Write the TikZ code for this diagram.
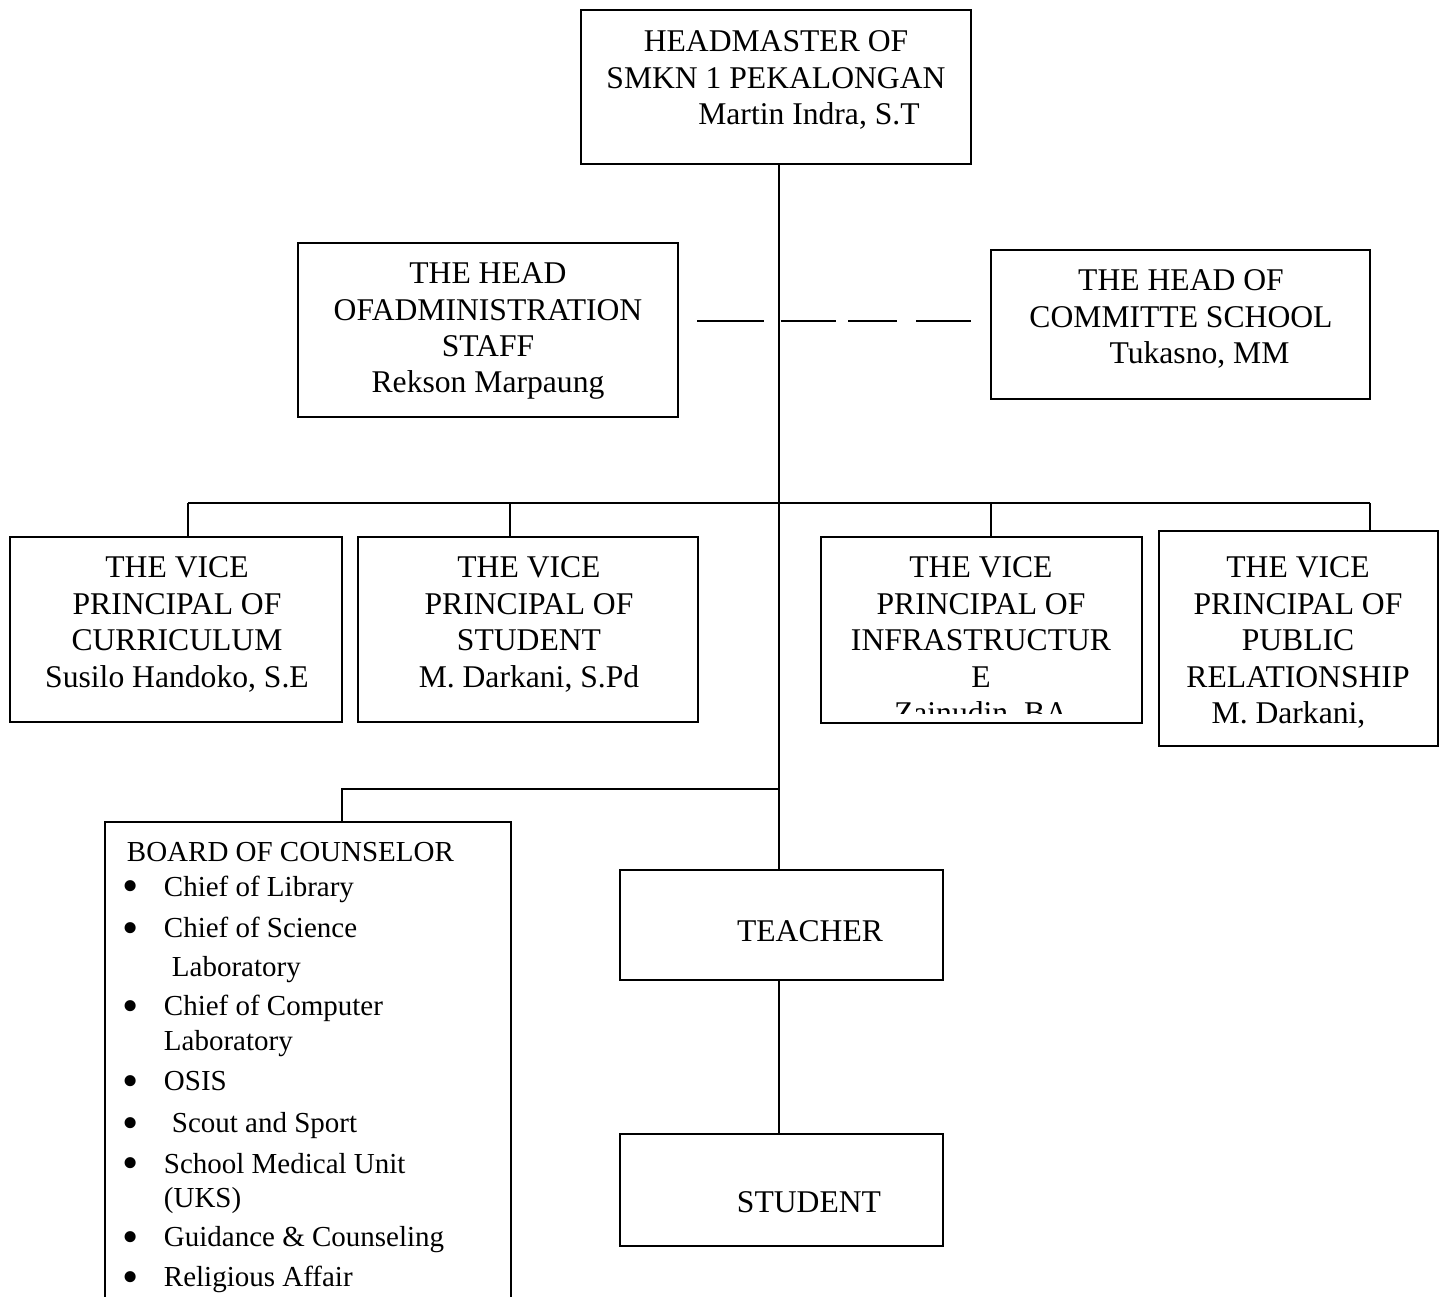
\documentclass[tikz,border=0pt]{standalone}
\usepackage{fontspec}
\setmainfont{Liberation Serif}
\newcommand{\itm}{\hspace*{-0.08cm}\makebox[0.82cm][l]{\raisebox{-0.2em}{\scalebox{1.6}{\textbullet}}}}
\begin{document}
\begin{tikzpicture}[x=0.02cm, y=-0.02cm, line width=1.1pt,
  box/.style={draw, rectangle, anchor=north west, inner sep=0pt, outer sep=0pt},
  txt/.style={align=center, anchor=north, inner sep=0pt, font=\fontsize{18}{20.7}\selectfont},
  list/.style={align=left, anchor=north west, inner sep=0pt, font=\fontsize{16.5}{19.3}\selectfont}]
\path[use as bounding box, clip] (0,0) rectangle (1445,1297);
\node (head)[box, minimum width=7.8cm, minimum height=3.08cm] at (581,10) {};
\node (adm)[box, minimum width=7.6cm, minimum height=3.48cm] at (298,243) {};
\node (com)[box, minimum width=7.58cm, minimum height=2.98cm] at (991,250) {};
\node (vp1)[box, minimum width=6.64cm, minimum height=3.7cm] at (10,537) {};
\node (vp2)[box, minimum width=6.8cm, minimum height=3.7cm] at (358,537) {};
\node (vp3)[box, minimum width=6.42cm, minimum height=3.72cm] at (821,537) {};
\node (vp4)[box, minimum width=5.58cm, minimum height=4.3cm] at (1159,531) {};
\node (board)[box, minimum width=8.12cm, minimum height=10cm] at (105,822) {};
\node (teach)[box, minimum width=6.46cm, minimum height=2.2cm] at (620,870) {};
\node (stud)[box, minimum width=6.46cm, minimum height=2.24cm] at (620,1134) {};
\node (headt)[txt] at (776,30) {HEADMASTER OF\\SMKN 1 PEKALONGAN\\\hspace*{1.32cm}Martin Indra, S.T};
\node (admt)[txt] at (488,262) {THE HEAD\\OFADMINISTRATION\\STAFF\\Rekson Marpaung};
\node (comt)[txt] at (1181,269) {THE HEAD OF\\COMMITTE SCHOOL\\\hspace*{0.74cm}Tukasno, MM};
\node (vp1t)[txt] at (177,556) {THE VICE\\PRINCIPAL OF\\CURRICULUM\\Susilo Handoko, S.E};
\node (vp2t)[txt] at (529,556) {THE VICE\\PRINCIPAL OF\\STUDENT\\M. Darkani, S.Pd};
\begin{scope}
\clip (vp3.north west) rectangle ([yshift=0.18cm]vp3.south east);
\node (vp3t)[txt] at (981,556) {THE VICE\\PRINCIPAL OF\\INFRASTRUCTUR\\E\\Zainudin, BA};
\end{scope}
\node (vp4t)[txt] at (1298,556) {THE VICE\\PRINCIPAL OF\\PUBLIC\\RELATIONSHIP\\M. Darkani,\hspace*{0.38cm}};
\node (teacht)[txt] at (810,920) {TEACHER};
\node (studt)[txt] at (809,1191) {STUDENT};
\node (boardt)[list] at (126,841) {BOARD OF COUNSELOR\\[0.6pt]
\itm Chief of Library\\[4.5pt]
\itm Chief of Science\\[2.8pt]
\hspace*{0.9cm}Laboratory\\[2.8pt]
\itm Chief of Computer\\[0.6pt]
\hspace*{0.74cm}Laboratory\\[3.4pt]
\itm OSIS\\[4.5pt]
\itm\hspace*{0.16cm}Scout and Sport\\[4pt]
\itm School Medical Unit\\
\hspace*{0.74cm}(UKS)\\[3.4pt]
\itm Guidance \& Counseling\\[3.4pt]
\itm Religious Affair};
\coordinate (s) at (779,0);
\coordinate (b1) at (188,503);
\coordinate (b2) at (510,503);
\coordinate (b3) at (991,503);
\coordinate (b4) at (1370,503);
\coordinate (c1) at (342,789);
\coordinate (dl) at (697,321);
\coordinate (dr) at (972,321);
\draw (head.south -| s) -- (teach.north -| s);
\draw (b1) -- (b4);
\draw (b1) -- (b1 |- vp1.north);
\draw (b2) -- (b2 |- vp2.north);
\draw (b3) -- (b3 |- vp3.north);
\draw (b4) -- (b4 |- vp4.north);
\draw (c1 -| s) -- (c1) -- (c1 |- board.north);
\draw (teach.south -| s) -- (stud.north -| s);
\draw[dash pattern=on 38pt off 9.6pt on 31.7pt off 6.8pt on 27.8pt off 10.8pt on 31.2pt off 20pt] (dl) -- (dr);
\end{tikzpicture}
\end{document}
